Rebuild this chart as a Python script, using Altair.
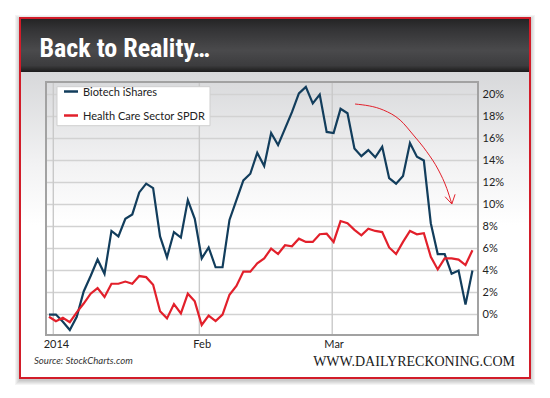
import altair as alt
import pandas as pd

# ---- data -----------------------------------------------------------------
series_names = ["Biotech iShares", "Health Care Sector SPDR"]
series_colors = ["#123d5c", "#e2202b"]

biotech = [0.0, 0.0, -0.65, -1.4, -0.2, 2.1, 3.5, 5.0, 3.7, 7.6,
           7.1, 8.7, 9.1, 11.1, 11.9, 11.5, 7.1, 5.2, 7.5, 7.0,
           10.4, 8.7, 5.1, 6.1, 4.3, 4.3, 8.6, 10.4, 12.2, 12.8,
           14.7, 13.5, 16.5, 15.4, 16.9, 18.4, 20.1, 20.7, 19.2, 20.0,
           16.6, 16.5, 18.7, 18.3, 15.1, 14.4, 14.95, 14.3, 15.25, 12.4,
           11.9, 12.6, 15.6, 14.35, 14.0, 8.3, 5.5, 5.5, 3.7, 4.0,
           0.9, 4.0]
healthcare = [-0.2, -0.6, -0.3, -0.7, 0.2, 1.0, 1.9, 2.4, 1.6, 2.8,
              2.8, 3.0, 2.8, 3.5, 3.4, 2.7, 0.3, -0.35, 0.95, 0.1,
              1.9, 1.2, -0.95, -0.1, -0.6, 0.0, 1.8, 2.6, 3.9, 3.9,
              4.65, 5.1, 6.0, 5.5, 6.3, 6.2, 6.9, 6.6, 6.6, 7.3,
              7.35, 6.6, 8.5, 8.3, 7.7, 7.2, 7.8, 7.6, 7.5, 6.1,
              5.5, 6.6, 7.6, 7.3, 7.4, 5.25, 4.1, 5.1, 5.1, 5.0,
              4.5, 5.85]

y_ticks = [0, 2, 4, 6, 8, 10, 12, 14, 16, 18, 20]
month_grid = [0.62, 21.66, 40.8]
month_label_pos = [1, 22, 41]
month_labels = ["2014", "Feb", "Mar"]

# annotation arrow (in data units: trading-day index, percent)
arrow_x = [44.09, 48.17, 50.58, 52.49, 54.42, 56.1, 57.3, 58.03]
arrow_y = [19.14, 18.59, 17.68, 16.32, 14.8, 13.14, 11.47, 10.05]
head_x = [57.06, 58.5]
head_y = [10.71, 10.93]

title_text = "Back to Reality…"
source_text = "Source: StockCharts.com"
logo_text = "WWW.DAILYRECKONING.COM"

# ---- frames -----------------------------------------------------------------
W, H = 432, 253
x_dom = [-0.43, 61.8]
y_dom = [-1.86, 21.14]
xs = alt.Scale(domain=x_dom, nice=False, zero=False)
ys = alt.Scale(domain=y_dom, nice=False, zero=False)
cs = alt.Scale(domain=series_names, range=series_colors)

label_expr = "{" + ",".join(f"'{p}':'{l}'" for p, l in zip(month_label_pos, month_labels)) + "}[datum.value]"
x_axis = alt.Axis(values=month_label_pos, labelExpr=label_expr, title=None,
                  grid=False, ticks=False, domain=False, labelPadding=3,
                  labelFontSize=11, labelFont="Lato", labelColor="#222222",
                  labelOverlap=False, zindex=1)
y_axis = alt.Axis(orient="right", values=y_ticks, labelExpr="datum.value + '%'",
                  title=None, grid=False, ticks=False, domain=False,
                  labelPadding=4, labelFontSize=11, labelFont="Lato",
                  labelColor="#222222", labelOverlap=False, zindex=1)

rows = []
for name, vals in zip(series_names, [biotech, healthcare]):
    for i, v in enumerate(vals):
        rows.append({"i": i, "v": v, "s": name})
df = pd.DataFrame(rows)

one = alt.Data(values=[{"a": 1}])

# shadow
shadows = []
for k in range(1, 6):
    shadows.append(
        alt.Chart(one).mark_rect(fill="#000000", opacity=0.045).encode(
            x=alt.value(-26 - k), x2=alt.value(484 + k),
            y=alt.value(-64 - k + 2), y2=alt.value(296 + k + 2))
    )

content_bg = alt.Chart(one).mark_rect(
    fill=alt.LinearGradient(
        gradient="linear",
        stops=[alt.GradientStop(color="#d7d8da", offset=0),
               alt.GradientStop(color="#f2f2f3", offset=0.3),
               alt.GradientStop(color="#ffffff", offset=0.5),
               alt.GradientStop(color="#ffffff", offset=1)],
        x1=0, x2=0, y1=0, y2=1)
).encode(x=alt.value(-26), x2=alt.value(484), y=alt.value(-10), y2=alt.value(296))

title_bar = alt.Chart(one).mark_rect(
    fill=alt.LinearGradient(
        gradient="linear",
        stops=[alt.GradientStop(color="#232323", offset=0),
               alt.GradientStop(color="#333335", offset=0.2),
               alt.GradientStop(color="#4a4a4c", offset=0.6),
               alt.GradientStop(color="#3c3c3e", offset=0.88),
               alt.GradientStop(color="#1b1b1b", offset=1)],
        x1=0, x2=0, y1=0, y2=1)
).encode(x=alt.value(-26), x2=alt.value(484), y=alt.value(-64), y2=alt.value(-10))

red_frame = alt.Chart(one).mark_rect(
    fill="transparent", stroke="#d21c29", strokeWidth=2
).encode(x=alt.value(-26), x2=alt.value(484), y=alt.value(-64), y2=alt.value(296))

title = alt.Chart(one).mark_text(
    text=title_text, align="left", baseline="alphabetic",
    font="Liberation Sans Narrow, Roboto Condensed, Arial Narrow, sans-serif",
    fontWeight="bold", fontSize=26, color="#ffffff"
).encode(x=alt.value(-6.5), y=alt.value(-25))

hgrid = alt.Chart(pd.DataFrame({"t": y_ticks})).mark_rule(
    color="#d2d2d2", strokeWidth=1.6
).encode(y=alt.Y("t:Q", scale=ys, axis=y_axis), x=alt.value(0), x2=alt.value(W))

vgrid = alt.Chart(pd.DataFrame({"g": month_grid})).mark_rule(
    color="#c9c9c9", strokeWidth=1.4
).encode(x=alt.X("g:Q", scale=xs, axis=x_axis), y=alt.value(0), y2=alt.value(H))

plot_border = alt.Chart(one).mark_rect(
    fill="transparent", stroke="#a2a2a2", strokeWidth=2
).encode(x=alt.value(0), x2=alt.value(W), y=alt.value(0), y2=alt.value(H))

lines = alt.Chart(df).mark_line(strokeWidth=2.2, strokeJoin="miter").encode(
    x=alt.X("i:Q", scale=xs, axis=x_axis),
    y=alt.Y("v:Q", scale=ys, axis=y_axis),
    color=alt.Color("s:N", scale=cs, legend=None),
    order="i:Q",
)

# legend box drawn from the series names / colours
legend_box = alt.Chart(one).mark_rect(
    fill="#ffffff", stroke="#cfcfcf", strokeWidth=1
).encode(x=alt.value(11), x2=alt.value(164), y=alt.value(4.7), y2=alt.value(43.7))

legend_layers = []
for k, name in enumerate(series_names):
    yy = 9.5 + 24 * k
    d = alt.Data(values=[{"s": name}])
    legend_layers.append(
        alt.Chart(d).mark_rule(strokeWidth=2.5).encode(
            x=alt.value(18), x2=alt.value(32), y=alt.value(yy),
            color=alt.Color("s:N", scale=cs, legend=None)))
    legend_layers.append(
        alt.Chart(d).mark_text(align="left", baseline="middle", font="Lato",
                               fontSize=11, color="#222222").encode(
            x=alt.value(37), y=alt.value(yy + 1), text="s:N"))

arrow_df = pd.DataFrame({"x": arrow_x, "y": arrow_y, "o": list(range(len(arrow_x)))})
arrow = alt.Chart(arrow_df).mark_line(color="#e2202b", strokeWidth=1, interpolate="monotone").encode(
    x=alt.X("x:Q", scale=xs, axis=x_axis), y=alt.Y("y:Q", scale=ys, axis=y_axis), order="o:Q")

head_df = pd.DataFrame({"x": head_x, "y": head_y,
                        "x2": [arrow_x[-1]] * 2, "y2": [arrow_y[-1]] * 2})
head = alt.Chart(head_df).mark_rule(color="#e2202b", strokeWidth=1).encode(
    x=alt.X("x:Q", scale=xs, axis=x_axis), y=alt.Y("y:Q", scale=ys, axis=y_axis),
    x2="x2:Q", y2="y2:Q")

source = alt.Chart(one).mark_text(
    text=source_text, align="left", baseline="alphabetic", font="Lato",
    fontStyle="italic", fontSize=9.6, color="#333333"
).encode(x=alt.value(-12), y=alt.value(281.5))

logo = alt.Chart(one).mark_text(
    text=logo_text, align="right", baseline="alphabetic", font="Liberation Serif",
    fontSize=14, color="#1a1a1a"
).encode(x=alt.value(469), y=alt.value(284))

chart = alt.layer(
    *shadows, content_bg, title_bar, red_frame, title,
    hgrid, vgrid, lines, plot_border, arrow, head,
    legend_box, *legend_layers, source, logo
).properties(
    width=W, height=H,
    autosize=alt.AutoSizeParams(type="none"),
    padding={"left": 38, "top": 74, "right": 64, "bottom": 55},
).configure_view(stroke=None).configure_axis(labelOverlap=False)

chart.save("out.html", embed_options={"renderer": "svg", "actions": False})
